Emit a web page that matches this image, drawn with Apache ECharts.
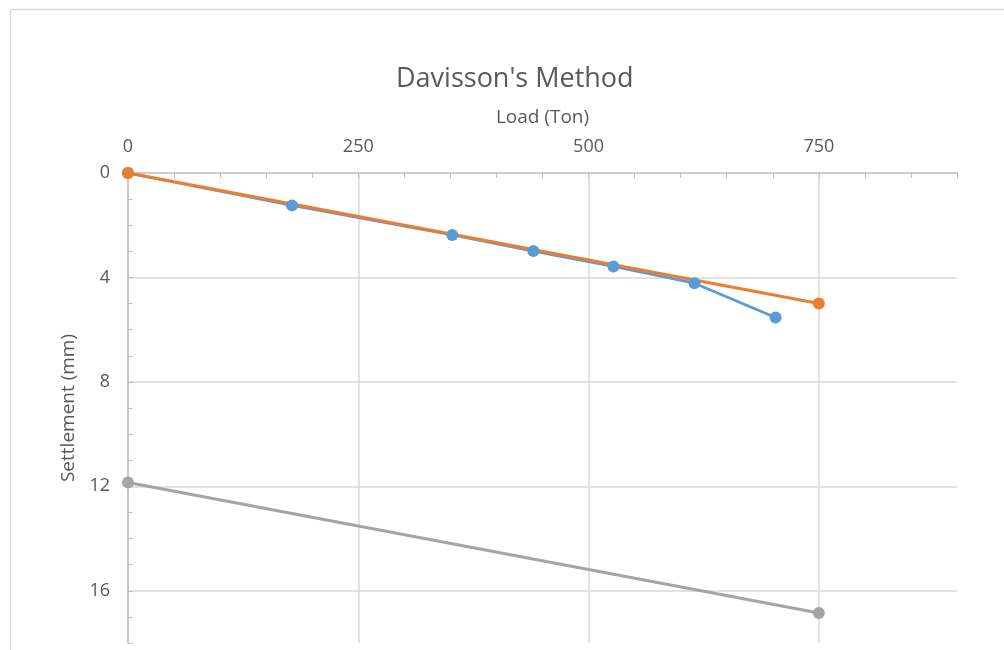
<!DOCTYPE html>
<html>
<head>
<meta charset="utf-8">
<script src="https://cdn.jsdelivr.net/npm/echarts@6/dist/echarts.min.js"></script>
<style>
  html, body { margin: 0; padding: 0; background: #fff; }
  #chart { width: 1004px; height: 650px; }
</style>
</head>
<body>
<div id="chart"></div>
<script>
const loadTest = [0, 178, 352, 440, 527, 615, 703];
const settleTest = [0, 1.24, 2.37, 2.99, 3.58, 4.22, 5.53];
const loadElastic = [0, 750];
const settleElastic = [0, 5.0];
const loadOffset = [0, 750];
const settleOffset = [11.85, 16.85];

const zip = (xs, ys) => xs.map((x, i) => [x, ys[i]]);
const FONT = '"Open Sans", "Noto Sans", sans-serif';
const TXT = '#595959';

const chart = echarts.init(document.getElementById('chart'), null, { renderer: 'canvas' });
chart.setOption({
  animation: false,
  backgroundColor: '#fff',
  graphic: [{
    type: 'rect', left: 8, top: 7, silent: true,
    shape: { width: 1200, height: 800 },
    style: { fill: 'none', stroke: '#d9d9d9', lineWidth: 1.5 }
  }],
  title: {
    text: "Davisson's Method",
    left: 391, top: 61,
    textStyle: { fontFamily: FONT, fontSize: 27, fontWeight: 'normal', color: TXT }
  },
  grid: { left: 128, right: 47, top: 173, bottom: 7, containLabel: false },
  xAxis: {
    type: 'value', position: 'top',
    min: 0, max: 900, interval: 250,
    name: 'Load (Ton)', nameLocation: 'middle', nameGap: 46,
    nameTextStyle: { fontFamily: FONT, fontSize: 19, color: TXT },
    axisLine: { show: true, lineStyle: { color: '#bfbfbf', width: 1.5 } },
    axisTick: { show: true, inside: true, length: 5, lineStyle: { color: '#bfbfbf' } },
    minorTick: { show: true, splitNumber: 5, length: 5, lineStyle: { color: '#bfbfbf' } },
    axisLabel: { showMaxLabel: false, margin: 17, fontFamily: FONT, fontSize: 18, color: TXT },
    splitLine: { show: true, showMaxLine: false, lineStyle: { color: '#d9d9d9', width: 1.5 } }
  },
  yAxis: {
    type: 'value', inverse: true,
    min: 0, max: 18, interval: 4,
    name: 'Settlement (mm)', nameLocation: 'middle', nameGap: 45,
    nameTextStyle: { fontFamily: FONT, fontSize: 19, color: TXT },
    axisLine: { show: true, lineStyle: { color: '#bfbfbf', width: 1.5 } },
    axisTick: { show: true, inside: true, length: 5, lineStyle: { color: '#bfbfbf' } },
    minorTick: { show: true, splitNumber: 4, length: 5, lineStyle: { color: '#bfbfbf' } },
    axisLabel: { showMaxLabel: false, margin: 18, fontFamily: FONT, fontSize: 18, color: TXT },
    splitLine: { show: true, showMinLine: false, showMaxLine: false, lineStyle: { color: '#d9d9d9', width: 1.5 } }
  },
  series: [
    {
      type: 'line', data: zip(loadTest, settleTest),
      symbol: 'circle', symbolSize: 12,
      lineStyle: { color: '#5b9bd5', width: 2.75 },
      itemStyle: { color: '#5b9bd5' }
    },
    {
      type: 'line', data: zip(loadElastic, settleElastic),
      symbol: 'circle', symbolSize: 12,
      lineStyle: { color: '#ed7d31', width: 3 },
      itemStyle: { color: '#ed7d31' }
    },
    {
      type: 'line', data: zip(loadOffset, settleOffset),
      symbol: 'circle', symbolSize: 12,
      lineStyle: { color: '#a5a5a5', width: 3 },
      itemStyle: { color: '#a5a5a5' }
    }
  ]
});
</script>
</body>
</html>
